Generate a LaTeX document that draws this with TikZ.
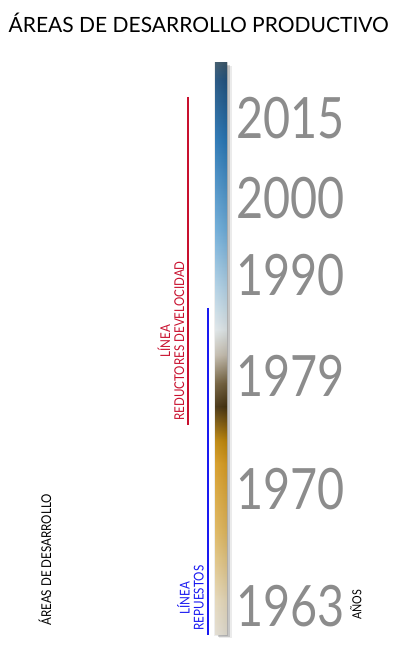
\documentclass[tikz,border=0pt]{standalone}
\usepackage{fontspec}
\setmainfont{Lato}
\newfontfamily\yearfont[FakeStretch=0.82]{Lato}
\newfontfamily\narrowfont[FakeStretch=0.86]{Lato}
\usepackage{xcolor}
\usepackage{tikz}
\usetikzlibrary{positioning, arrows.meta, calc}

\definecolor{redline}{HTML}{C8102E}
\definecolor{blueline}{HTML}{1A1AF0}
\definecolor{yeargray}{HTML}{8C8C8C}
\definecolor{cream}{HTML}{F7E9C8}
\definecolor{creamlight}{HTML}{F4EEE2}
\definecolor{goldlight}{HTML}{F0C566}
\definecolor{gold}{HTML}{E8A826}
\definecolor{golddark}{HTML}{CC900A}
\definecolor{browndark}{HTML}{4A3510}
\definecolor{brownmid}{HTML}{7A6640}
\definecolor{greyish}{HTML}{D4CCBC}
\definecolor{iceblue}{HTML}{F0F8FA}
\definecolor{paleblue}{HTML}{C4E4F8}
\definecolor{skyblue}{HTML}{76BAEA}
\definecolor{midblue}{HTML}{2A7EC2}
\definecolor{deepblue}{HTML}{235888}
\definecolor{slateblue}{HTML}{3E5C72}

% color stops of the time bar, bottom (25bp) to top (75bp)
\pgfdeclareverticalshading{timebar}{100bp}{%
  color(0bp)=(creamlight);
  color(25bp)=(creamlight);
  color(28bp)=(cream);
  color(34bp)=(goldlight);
  color(40bp)=(gold);
  color(42bp)=(golddark);
  color(45bp)=(browndark);
  color(47bp)=(brownmid);
  color(49.5bp)=(greyish);
  color(51.7bp)=(iceblue);
  color(55bp)=(paleblue);
  color(60.4bp)=(skyblue);
  color(68.3bp)=(midblue);
  color(73.5bp)=(deepblue);
  color(75bp)=(slateblue);
  color(100bp)=(slateblue)}

\tikzset{
  year/.style={anchor=west, text=yeargray, font=\yearfont\fontsize{57}{57}\selectfont, inner sep=0pt},
  sidelabel/.style={rotate=90, align=center, font=\narrowfont\fontsize{13.5}{14}\selectfont, inner sep=0pt}
}

\begin{document}
\begin{tikzpicture}[x=1pt, y=1pt, line width=1.3pt]
  \useasboundingbox (0,0) rectangle (400,657);
  % title
  \node[anchor=base west, inner sep=0pt, font=\fontsize{21}{21}\selectfont] (title) at (8,624) {ÁREAS DE DESARROLLO PRODUCTIVO};
  % time bar with shadow
  \fill[black, opacity=0.16] (217.5,20) rectangle (230,592);
  \fill[black, opacity=0.08] (219,18.5) rectangle (231.5,591);
  \node[draw=none, minimum width=12pt, minimum height=572pt, inner sep=0pt, shading=timebar] (bar) at (221,308) {};
  \fill[left color=white, right color=black, opacity=0.07] (bar.south west) rectangle (bar.north east);
  % years
  \node[year] (y2015) at (236,538.5) {2015};
  \node[year] (y2000) at (236,458.5) {2000};
  \node[year] (y1990) at (236,382) {1990};
  \node[year] (y1979) at (236,281) {1979};
  \node[year] (y1970) at (236,168) {1970};
  \node[year] (y1963) at (236,50.5) {1963};
  \node[sidelabel, font=\narrowfont\fontsize{12.5}{12.5}\selectfont] (anos) at (356,52) {AÑOS};
  % development lines
  \coordinate (redtop) at (188,560);
  \coordinate (redbot) at (188,232);
  \coordinate (bluetop) at (208,349);
  \coordinate (bluebot) at (208,22);
  \draw[redline] (redtop) -- (redbot);
  \draw[blueline] (bluetop) -- (bluebot);
  \node[sidelabel, text=redline] (redtext) at (171,316) {LÍNEA\\REDUCTORES DEVELOCIDAD};
  \node[sidelabel, text=blueline] (bluetext) at (190.5,59) {LÍNEA\\REPUESTOS};
  \node[sidelabel] (areas) at (45,97) {ÁREAS DE DESARROLLO};
\end{tikzpicture}
\end{document}
